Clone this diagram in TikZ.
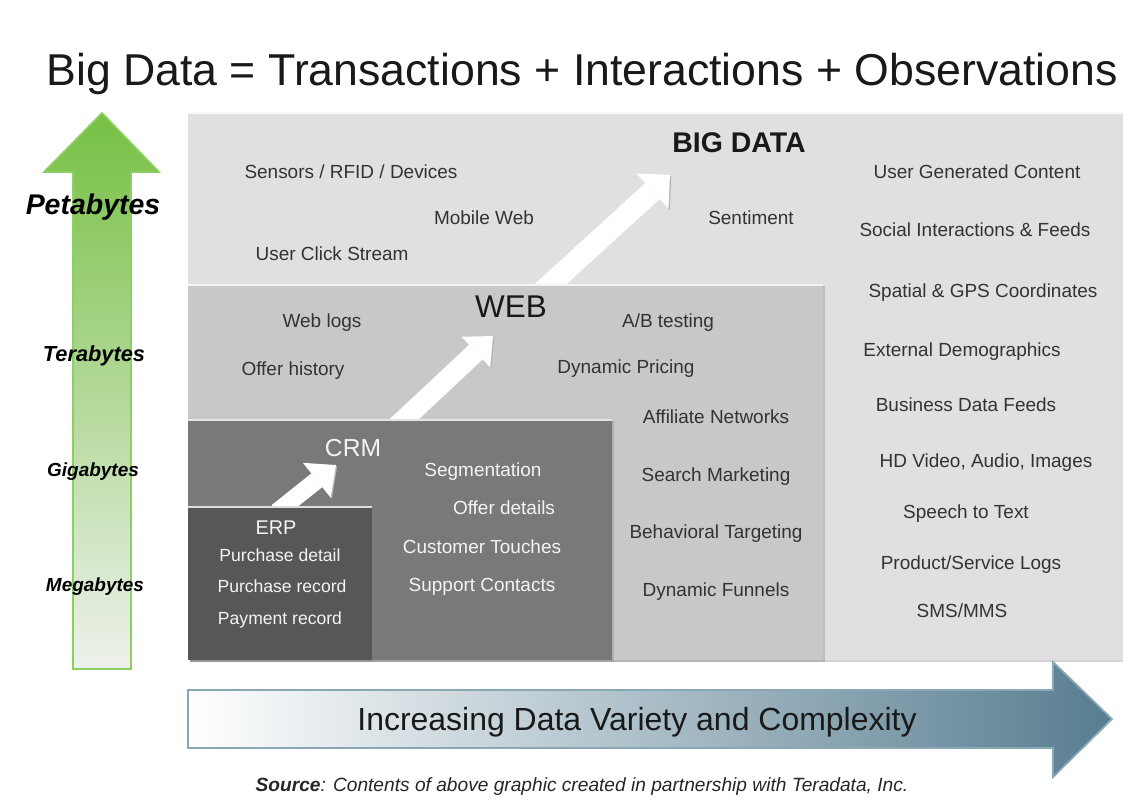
\documentclass[tikz,border=0pt]{standalone}
\usepackage{fontspec}
\setmainfont{Liberation Sans}
\usepackage{tikz}
\usetikzlibrary{arrows.meta,positioning,fit,shadows}

\definecolor{bigfill}{HTML}{E0E0E0}
\definecolor{webfill}{HTML}{C8C8C8}
\definecolor{crmfill}{HTML}{797979}
\definecolor{erpfill}{HTML}{575757}
\definecolor{darktext}{HTML}{333333}
\definecolor{lighttext}{HTML}{F4F4F4}
\definecolor{greentop}{HTML}{76C043}
\definecolor{greenbot}{HTML}{EEF1EC}
\definecolor{greenedge}{HTML}{8CCF62}
\definecolor{slate}{HTML}{577D90}
\definecolor{slateedge}{HTML}{8AA7B5}

\newcommand{\itemsize}{\fontsize{10.8}{13}\selectfont}
\newcommand{\erpsize}{\fontsize{10}{12}\selectfont}

\tikzset{
    layer/.style = { inner sep = 0pt, fill = #1,
        drop shadow = {shadow xshift = .9pt, shadow yshift = -.9pt, opacity = .35},
        path picture = {\draw[white, opacity = .8, line width = 2pt]
            (path picture bounding box.north west) -- (path picture bounding box.north east);}
    },
    item/.style = { inner sep = 0pt, text height = 1.5ex, text depth = .1ex,
        font = \itemsize, text = darktext
    },
    litem/.style = { item, font = \erpsize, text = lighttext },
    level/.style = { inner sep = 0pt, text height = 1.5ex, text depth = .1ex,
        font = \fontsize{#1}{#1}\selectfont\bfseries\itshape
    },
    growth/.style n args = {3}{ draw = white, line width = #1,
        -{Triangle[width = #2, length = #3, line width = 0pt]},
        preaction = {draw = black!30, transform canvas = {xshift = .7pt, yshift = -.7pt}}
    },
    volume/.style = { top color = greentop, bottom color = greenbot,
        draw = greenedge, line width = 1pt },
    variety/.style = { left color = white, right color = slate,
        draw = slateedge, line width = 1pt }
}

\begin{document}
\begin{tikzpicture}[x = 0.02cm, y = -0.02cm]
        \useasboundingbox (0,0) rectangle (1123,799);

        \node (title) at (582,74) [inner sep = 0pt, font = \fontsize{25.4}{30}\selectfont, text = black!90]
            {Big Data = Transactions + Interactions + Observations};

        % data volume arrow
        \shadedraw[volume] (73,669) -- (73,172) -- (44,172) -- (102,113) -- (159,172) -- (131,172) -- (131,669) -- cycle;
        \node[level = 16.2] (peta) at (93,208) {Petabytes};
        \node[level = 12.4] (tera) at (94,355) {Terabytes};
        \node[level = 10.8] (giga) at (93,470) {Gigabytes};
        \node[level = 10.8] (mega) at (95,585) {Megabytes};

        % nested layers...
        \node[layer = bigfill, fit = {(188,112) (1123,660)}] (big) {};
        \coordinate (web-out) at (542,292);
        \coordinate (big-in) at (670,175);
        \draw[growth = {0.43cm}{0.96cm}{0.48cm}] (web-out) -- (big-in);

        \node[layer = webfill, fit = {(188,284) (823,660)}] (web) {};
        \coordinate (crm-out) at (397,426);
        \coordinate (web-in) at (493,336);
        \draw[growth = {0.40cm}{0.84cm}{0.47cm}] (crm-out) -- (web-in);

        \node[layer = crmfill, fit = {(188,419) (612,660)}] (crm) {};
        \coordinate (erp-out) at (277,512);
        \coordinate (crm-in) at (336,465);
        \draw[growth = {0.35cm}{0.89cm}{0.49cm}] (erp-out) -- (crm-in);

        \node[layer = erpfill, fit = {(188,506) (372,660)}] (erp) {};

        % big data layer
        \node[item, font = \fontsize{16.2}{18}\selectfont\bfseries, text = black!90] (bigt) at (739,146) {BIG DATA};
        \node[item] (sensors) at (351,172) {Sensors / RFID / Devices};
        \node[item] (mobile) at (484,218) {Mobile Web};
        \node[item] (click) at (332,254) {User Click Stream};
        \node[item] (senti) at (751,218) {Sentiment};
        \node[item] (ugc) at (977,172) {User Generated Content};
        \node[item] (social) at (975,230) {Social Interactions \& Feeds};
        \node[item] (gps) at (983,291) {Spatial \& GPS Coordinates};
        \node[item] (demo) at (962,350) {External Demographics};
        \node[item] (feeds) at (966,405) {Business Data Feeds};
        \node[item] (video) at (986,461) {HD Video, Audio, Images};
        \node[item] (speech) at (966,512) {Speech to Text};
        \node[item] (logs) at (971,563) {Product/Service Logs};
        \node[item] (sms) at (962,611) {SMS/MMS};

        % web layer
        \node[item, font = \fontsize{17.9}{20}\selectfont, text = black!90] (webt) at (511,311) {WEB};
        \node[item] (weblogs) at (322,321) {Web logs};
        \node[item] (abtest) at (668,321) {A/B testing};
        \node[item] (offerh) at (293,369) {Offer history};
        \node[item] (pricing) at (626,367) {Dynamic Pricing};
        \node[item] (affil) at (716,417) {Affiliate Networks};
        \node[item] (search) at (716,475) {Search Marketing};
        \node[item] (behav) at (716,532) {Behavioral Targeting};
        \node[item] (funnel) at (716,590) {Dynamic Funnels};

        % crm layer
        \node[litem, font = \fontsize{14}{16}\selectfont] (crmt) at (353,450) {CRM};
        \node[litem, font = \itemsize] (segm) at (483,470) {Segmentation};
        \node[litem, font = \itemsize] (offerd) at (504,508) {Offer details};
        \node[litem, font = \itemsize] (touch) at (482,547) {Customer Touches};
        \node[litem, font = \itemsize] (support) at (482,585) {Support Contacts};

        % erp layer
        \node[litem, font = \fontsize{11.3}{13}\selectfont] (erpt) at (276,528) {ERP};
        \node[litem] (pdetail) at (280,555) {Purchase detail};
        \node[litem] (precord) at (282,586) {Purchase record};
        \node[litem] (payment) at (280,618) {Payment record};

        % data variety arrow
        \shadedraw[variety] (188,690) -- (1053,690) -- (1053,662) -- (1112,719) -- (1053,777) -- (1053,748) -- (188,748) -- cycle;
        \node[inner sep = 0pt, font = \fontsize{18.2}{20}\selectfont, text = black!90] (vart) at (637,722)
            {Increasing Data Variety and Complexity};

        \node[inner sep = 0pt, font = \fontsize{10.9}{12}\selectfont\itshape, text = black!85] (source) at (582,787)
            {\textbf{Source}: Contents of above graphic created in partnership with Teradata, Inc.};

    \end{tikzpicture}
\end{document}
